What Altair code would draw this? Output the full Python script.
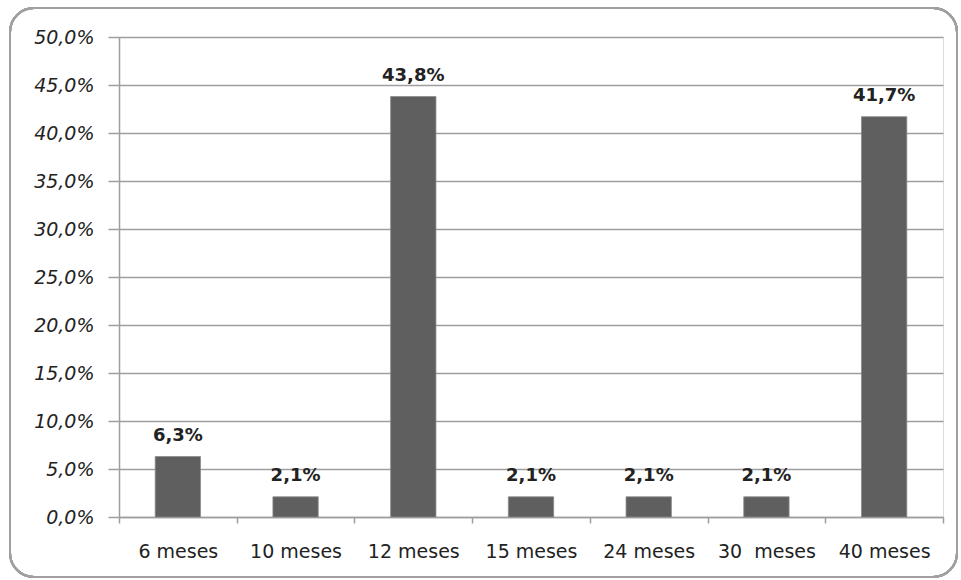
import altair as alt
import pandas as pd

categories = ["6 meses", "10 meses", "12 meses", "15 meses", "24 meses", "30\u00a0 meses", "40 meses"]
values = [0.063, 0.021, 0.438, 0.021, 0.021, 0.021, 0.417]
labels = ["6,3%", "2,1%", "43,8%", "2,1%", "2,1%", "2,1%", "41,7%"]

df = pd.DataFrame({"cat": categories, "val": values, "lab": labels})

FONT = "DejaVu Sans"
GRID = "#9e9e9e"
TXT = "#222222"

x = alt.X("cat:N", sort=categories, title=None,
          scale=alt.Scale(paddingInner=0, paddingOuter=0),
          axis=alt.Axis(labelAngle=0, tickBand="extent", domainColor=GRID, domainWidth=1.5,
                        tickColor=GRID, tickWidth=1.5, tickSize=6, labelPadding=19,
                        labelFont=FONT, labelFontSize=19, labelColor=TXT, grid=False))
y = alt.Y("val:Q", title=None,
          scale=alt.Scale(domain=[0, 0.5], nice=False),
          axis=alt.Axis(values=[i * 0.05 for i in range(11)],
                        labelExpr="replace(format(datum.value, '.1%'), '.', ',')",
                        labelFont=FONT, labelFontSize=19, labelFontStyle="italic",
                        labelColor=TXT, labelPadding=14,
                        domainColor=GRID, domainWidth=1.5, tickColor=GRID, tickWidth=1.5,
                        tickSize=11, grid=True, gridColor=GRID, gridWidth=1.5))

frame = alt.Chart(df).mark_rect(
    fill=None, stroke="#a0a0a0", strokeWidth=2, cornerRadius=24
).encode(x=alt.value(-109), x2=alt.value(838), y=alt.value(-29), y2=alt.value(540))

bars = alt.Chart(df).mark_bar(
    color="#5f5f5f", stroke="#8a8a8a", strokeWidth=0.8, width={"band": 0.385}
).encode(x=x, y=y)

text = alt.Chart(df).mark_text(
    font=FONT, fontSize=18, fontWeight="bold", color=TXT, baseline="alphabetic", dy=-16
).encode(x=alt.X("cat:N", sort=categories), y="val:Q", text="lab:N")

chart = alt.layer(frame, bars, text).properties(
    width=824, height=480,
    autosize=alt.AutoSizeParams(type="none"),
    padding={"left": 119, "top": 37, "right": 18, "bottom": 63},
).configure_view(stroke=None).configure(background="white")

chart.save("out.html", embed_options={"renderer": "svg", "actions": False})
